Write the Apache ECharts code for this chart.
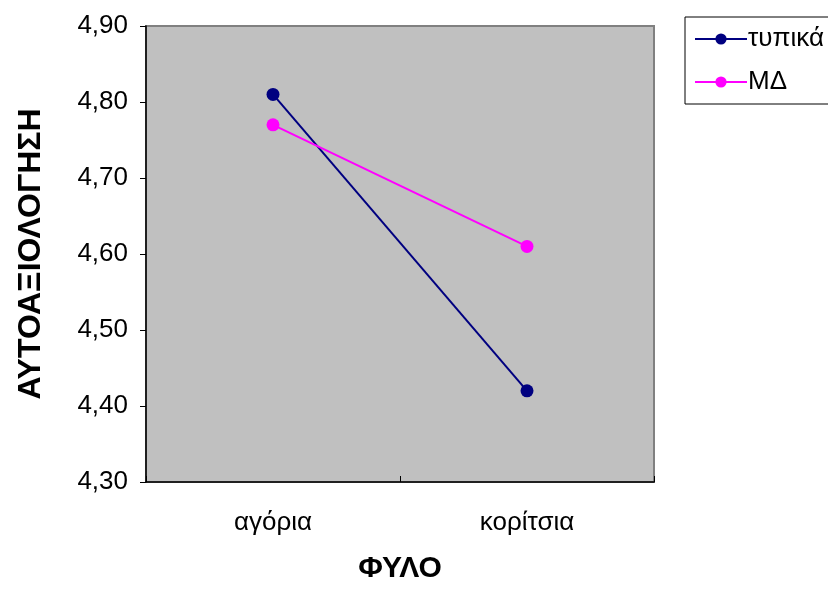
<!DOCTYPE html>
<html>
<head>
<meta charset="utf-8">
<script src="https://cdn.jsdelivr.net/npm/echarts@6/dist/echarts.min.js"></script>
<style>
  html, body { margin: 0; padding: 0; background: #fff; }
  #chart { width: 828px; height: 589px; }
</style>
</head>
<body>
<div id="chart"></div>
<script>
const categories = ["αγόρια", "κορίτσια"];
const typical = [4.81, 4.42];
const md = [4.77, 4.61];

const chart = echarts.init(document.getElementById("chart"));
const font = "Liberation Sans, Arial, sans-serif";

chart.setOption({
  animation: false,
  textStyle: { fontFamily: font },
  grid: {
    left: 146,
    top: 26,
    right: 174,
    bottom: 99,
    show: true,
    backgroundColor: "#c0c0c0",
    borderColor: "#808080",
    borderWidth: 2
  },
  legend: {
    orient: "vertical",
    left: 685,
    top: 17,
    itemWidth: 52,
    itemHeight: 14,
    itemGap: 17,
    padding: [9, 40, 9, 9],
    borderColor: "#000",
    borderWidth: 1,
    textStyle: { fontSize: 26, color: "#000", fontFamily: font, padding: [0, 0, 0, -4] },
    data: ["τυπικά", "ΜΔ"]
  },
  xAxis: [
    {
      type: "category",
      data: categories,
      boundaryGap: true,
      axisLine: { lineStyle: { color: "#000", width: 1.5 } },
      axisTick: { alignWithLabel: true, length: 6, lineStyle: { color: "#000" } },
      axisLabel: { fontSize: 26, color: "#000", margin: 28 },
      name: "ΦΥΛΟ",
      nameLocation: "middle",
      nameGap: 72,
      nameTextStyle: { fontSize: 30, fontWeight: "bold", color: "#000" }
    },
    {
      type: "value",
      position: "bottom",
      min: 0,
      max: 2,
      interval: 1,
      axisLine: { show: false },
      axisTick: { show: true, inside: true, length: 6, lineStyle: { color: "#000" } },
      axisLabel: { show: false },
      splitLine: { show: false }
    }
  ],
  yAxis: {
    type: "value",
    min: 4.3,
    max: 4.9,
    interval: 0.1,
    axisLine: { show: true, lineStyle: { color: "#000", width: 1.5 } },
    axisTick: { show: true, length: 6, lineStyle: { color: "#000" } },
    splitLine: { show: false },
    axisLabel: {
      fontSize: 26,
      color: "#000",
      margin: 18,
      formatter: v => v.toFixed(2).replace(".", ",")
    },
    name: "ΑΥΤΟΑΞΙΟΛΟΓΗΣΗ",
    nameLocation: "middle",
    nameGap: 99,
    nameRotate: 90,
    nameTextStyle: { fontSize: 32, fontWeight: "bold", color: "#000" }
  },
  series: [
    {
      name: "τυπικά",
      type: "line",
      data: typical,
      symbol: "circle",
      symbolSize: 13,
      color: "#000080",
      lineStyle: { width: 2, color: "#000080" },
      itemStyle: { color: "#000080" }
    },
    {
      name: "ΜΔ",
      type: "line",
      data: md,
      symbol: "circle",
      symbolSize: 13,
      color: "#ff00ff",
      lineStyle: { width: 2, color: "#ff00ff" },
      itemStyle: { color: "#ff00ff" }
    }
  ]
});
</script>
</body>
</html>
